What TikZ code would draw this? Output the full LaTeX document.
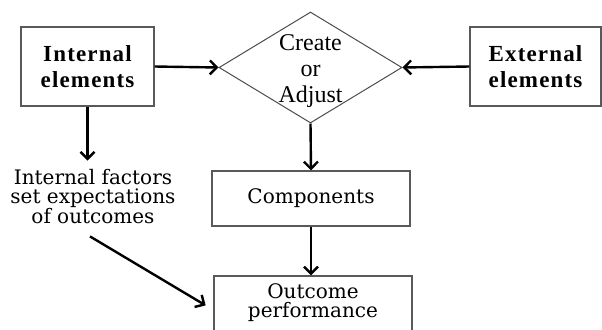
\documentclass[tikz,border=0pt]{standalone}
\usepackage{fontspec}
\setmainfont{DejaVu Serif}
\newfontfamily\timesfont{Liberation Serif}
\newfontfamily\boldfont[LetterSpace=5]{Liberation Serif Bold}
\usetikzlibrary{shapes.geometric,arrows.meta}
\tikzset{
  box/.style={draw=black!65, line width=1.3bp, rectangle, inner sep=0pt, align=center},
  boldbox/.style={box, font=\boldfont\fontsize{23bp}{26bp}\selectfont},
  plainbox/.style={box, font=\fontsize{20bp}{18bp}\selectfont},
  plaintext/.style={inner sep=0pt, align=center, font=\fontsize{20bp}{18.6bp}\selectfont},
  arr/.style={draw=black, line width=2.4bp, -{Straight Barb[length=7bp,width=14bp]}},
}
\begin{document}
\begin{tikzpicture}[x=1bp,y=-1bp]
\path[use as bounding box] (0,0) rectangle (602,329);
\clip (0,0) rectangle (602,329);
% nodes
\node[boldbox, minimum width=133bp, minimum height=79bp] (ie) at (87.5,66.5) {Internal\\elements};
\node[boldbox, minimum width=131bp, minimum height=79bp] (ee) at (535.5,66.5) {External\\elements};
\node[diamond, draw=black!70, line width=1bp, inner sep=0pt, minimum width=183bp, minimum height=111bp] (dia) at (310.5,67.5) {};
\node[inner sep=0pt, align=center, font=\timesfont\fontsize{24bp}{26bp}\selectfont] (diatext) at (310.5,71) {Create\\or\\Adjust};
\node[plainbox, minimum width=198bp, minimum height=55bp] (comp) at (311,198.5) {Components};
\node[box, minimum width=198bp, minimum height=64bp] (out) at (313,308) {};
\node[plaintext] (outtext) at (313,302.5) {Outcome\\performance};
\node[plaintext] (fact) at (93,197) {Internal factors\\set expectations\\of outcomes};
% connectors
\draw[arr] (ie.east) -- (dia.west);
\draw[arr] (ee.west) -- (dia.east);
\draw[arr] (dia.south) -- (comp.north);
\draw[arr] (comp.south) -- (comp.south |- out.north);
\draw[arr, shorten >=9bp] (ie.south) -- (ie.south |- fact.north);
\draw[arr, shorten >=9bp] ([xshift=-3bp,yshift=-12bp]fact.south) -- ([yshift=-2bp]out.west);
\end{tikzpicture}
\end{document}
